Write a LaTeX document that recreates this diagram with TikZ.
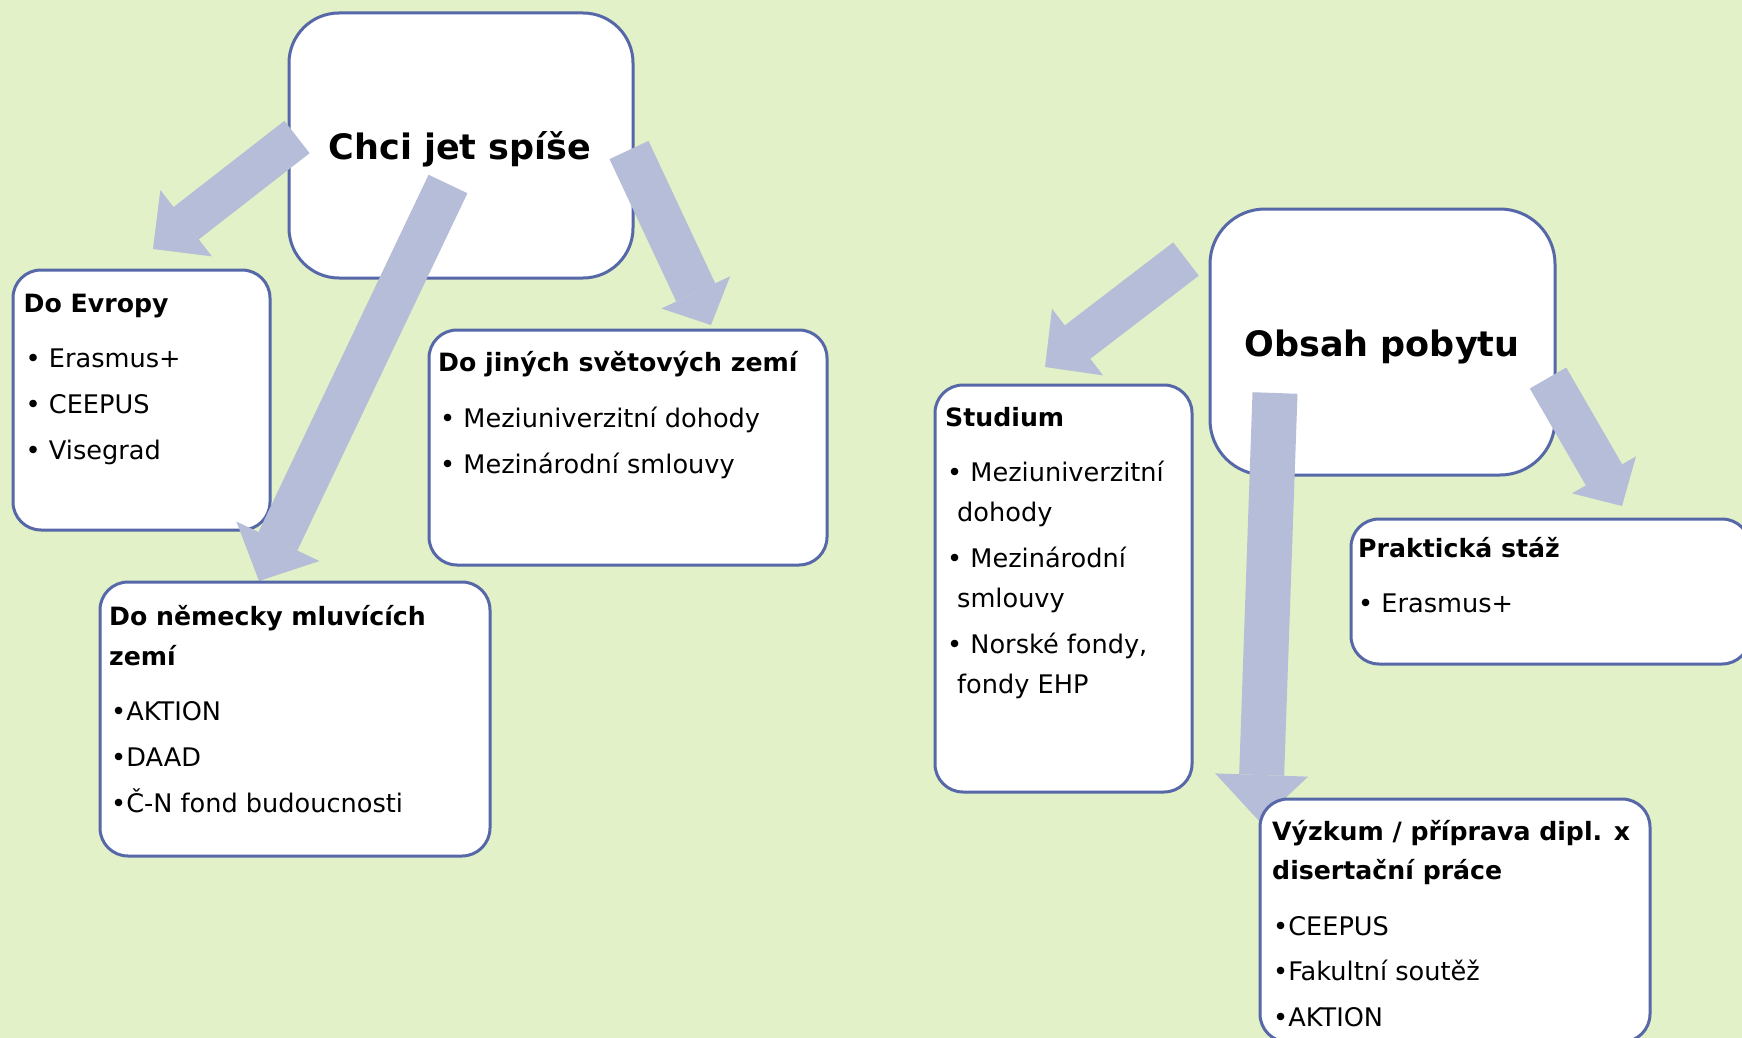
\documentclass[tikz,border=0pt]{standalone}
\usepackage{fontspec}
\setmainfont{DejaVu Sans}
\usetikzlibrary{arrows.meta}
\definecolor{bgc}{RGB}{227,241,200}
\definecolor{arrc}{RGB}{181,189,216}
\definecolor{brd}{RGB}{86,104,168}
\newcommand\bodyf{\fontsize{25.6}{30}\selectfont}
\newcommand\headf{\fontsize{25.2}{30}\selectfont\bfseries}
\newcommand\titlef{\fontsize{35}{42}\selectfont\bfseries}
\begin{document}
\begin{tikzpicture}[x=1pt,y=-1pt,
  box/.style={draw=brd, line width=3pt, fill=white, rounded corners=28pt, anchor=north west, inner sep=0pt, outer sep=0pt},
  arrw/.style n args={3}{draw=arrc, line width=#1, -{Triangle[width=#2, length=#3, line width=0pt]}},
  tx/.style={anchor=base west, inner sep=0pt, font=\bodyf},
  hd/.style={anchor=base west, inner sep=0pt, font=\headf},
  ttl/.style={anchor=base, inner sep=0pt, font=\titlef}]
\useasboundingbox (0,0) rectangle (1742,1038);
\fill[bgc] (0,0) rectangle (1742,1038);
\clip (0,0) rectangle (1742,1038);

% source and upper boxes
\node[box, minimum width=344pt, minimum height=265pt, rounded corners=50pt] (chci) at (289,13) {};
\node[box, minimum width=345pt, minimum height=266pt, rounded corners=55pt] (obsah) at (1210,209) {};
\node[box, minimum width=257pt, minimum height=260pt] (evr) at (13,270) {};
\node[box, minimum width=398pt, minimum height=235pt] (jin) at (429,330) {};
\node[box, minimum width=257pt, minimum height=407pt] (stud) at (935,385) {};
\node[box, minimum width=399pt, minimum height=145pt] (prak) at (1351,519) {};

% arrow ends
\coordinate (a1s) at (297,137);  \coordinate (a1e) at (153,249);
\coordinate (a2s) at (448,184);  \coordinate (a2e) at (259,581);
\coordinate (a3s) at (629,150);  \coordinate (a3e) at (711,325);
\coordinate (a4s) at (1186,259); \coordinate (a4e) at (1045,367);
\coordinate (a5s) at (1275,393); \coordinate (a5e) at (1260,822);
\coordinate (a6s) at (1548,378); \coordinate (a6e) at (1622,506);

\draw[arrw={41pt}{84pt}{42pt}] (a1s) -- (a1e);
\draw[arrw={43pt}{92pt}{44pt}] (a2s) -- (a2e);
\draw[arrw={43pt}{76pt}{36pt}] (a3s) -- (a3e);
\draw[arrw={42pt}{84pt}{41pt}] (a4s) -- (a4e);
\draw[arrw={45pt}{93pt}{47pt}] (a5s) -- (a5e);
\draw[arrw={42pt}{74pt}{36pt}] (a6s) -- (a6e);

% lower boxes (over arrow heads)
\node[box, minimum width=390pt, minimum height=274pt] (nem) at (100,582) {};
\node[box, minimum width=390pt, minimum height=243pt] (vyz) at (1260,799) {};

% titles
\node[ttl] (chcit) at (460,160) {Chci jet spíše};
\node[ttl] (obsaht) at (1382,356) {Obsah pobytu};

% Do Evropy
\node[hd] (evrh) at (23.5,312) {Do Evropy};
\node[tx] (evr1) at (25.5,367) {• Erasmus+};
\node[tx] (evr2) at (25.5,413) {• CEEPUS};
\node[tx] (evr3) at (25.5,459) {• Visegrad};

% Do jiných
\node[hd] (jinh) at (438,371) {Do jiných světových zemí};
\node[tx] (jin1) at (440,427) {• Meziuniverzitní dohody};
\node[tx] (jin2) at (440,473) {• Mezinárodní smlouvy};

% Do německy
\node[hd] (nemh1) at (109,625) {Do německy mluvících};
\node[hd] (nemh2) at (109,665) {zemí};
\node[tx] (nem1) at (111,720) {•AKTION};
\node[tx] (nem2) at (111,766) {•DAAD};
\node[tx] (nem3) at (111,812) {•Č-N fond budoucnosti};

% Studium
\node[hd] (studh) at (945,426) {Studium};
\node[tx] (stud1) at (947,481) {• Meziuniverzitní};
\node[tx] (stud1b) at (957,521) {dohody};
\node[tx] (stud2) at (947,567) {• Mezinárodní};
\node[tx] (stud2b) at (957,607) {smlouvy};
\node[tx] (stud3) at (947,653) {• Norské fondy,};
\node[tx] (stud3b) at (957,693) {fondy EHP};

% Praktická stáž
\node[hd] (prakh) at (1358,557) {Praktická stáž};
\node[tx] (prak1) at (1358,612) {• Erasmus+};

% Výzkum
\node[hd] (vyzh1) at (1272,840) {Výzkum / příprava dipl. x};
\node[hd] (vyzh2) at (1272,879) {disertační práce};
\node[tx] (vyz1) at (1273,935) {•CEEPUS};
\node[tx] (vyz2) at (1273,980) {•Fakultní soutěž};
\node[tx] (vyz3) at (1273,1026) {•AKTION};
\end{tikzpicture}
\end{document}
